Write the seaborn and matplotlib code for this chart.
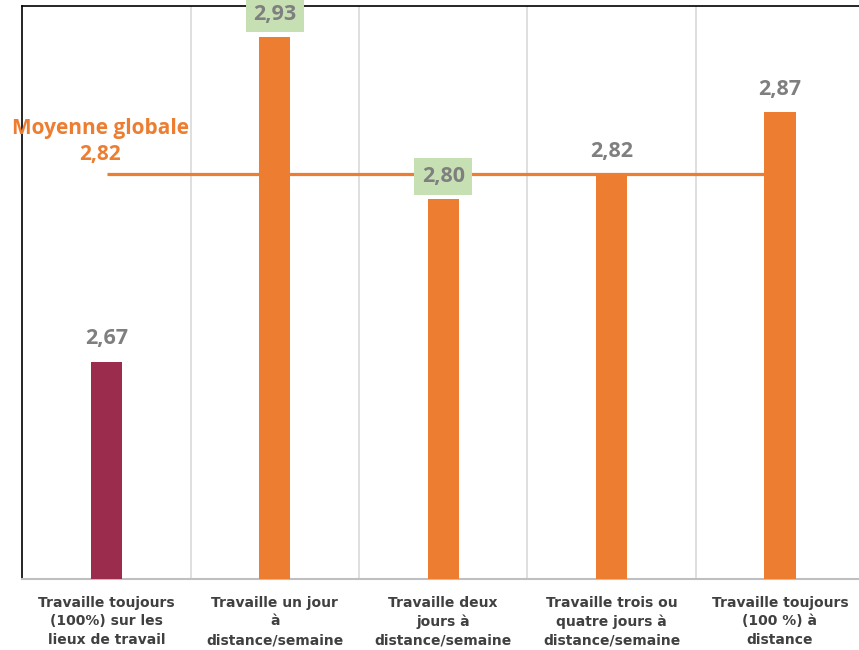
import matplotlib
matplotlib.use("Agg")
import matplotlib.pyplot as plt
import seaborn as sns
import pandas as pd

# Data
categories = [
    "Travaille toujours\n(100%) sur les\nlieux de travail",
    "Travaille un jour\nà\ndistance/semaine",
    "Travaille deux\njours à\ndistance/semaine",
    "Travaille trois ou\nquatre jours à\ndistance/semaine",
    "Travaille toujours\n(100 %) à\ndistance",
]
values = [2.67, 2.93, 2.80, 2.82, 2.87]
value_labels = ["2,67", "2,93", "2,80", "2,82", "2,87"]
highlighted = [False, True, True, False, False]
global_mean = 2.82
global_mean_label = "Moyenne globale\n2,82"

bar_colors = ["#9C2C4E", "#ED7D31", "#ED7D31", "#ED7D31", "#ED7D31"]
orange = "#ED7D31"
label_gray = "#7F7F7F"
box_green = "#C6E0B4"

sns.set_theme(style="white")
plt.rcParams["font.family"] = ["Open Sans", "DejaVu Sans"]

fig = plt.figure(figsize=(8.59, 6.5), dpi=100)
ax = fig.add_axes([0.026, 0.109, 0.98, 0.882])

df = pd.DataFrame({"cat": categories, "val": values})
sns.barplot(data=df, x="cat", y="val", hue="cat", palette=bar_colors,
            width=0.185, legend=False, saturation=1, ax=ax, zorder=3,
            linewidth=0, edgecolor="none")

# Global mean line, drawn behind the bars
ax.plot([0, len(categories) - 1], [global_mean, global_mean],
        color=orange, lw=2.3, zorder=2, solid_capstyle="butt")
ax.annotate(global_mean_label, (-0.036, global_mean), xytext=(0, 24),
            textcoords="offset points", ha="center", va="center",
            color=orange, fontsize=15, fontweight="bold", linespacing=1.3,
            zorder=5)

ax.set_ylim(2.496, 2.955)
ax.set_xlim(-0.5, len(categories) - 0.5)

# Category separators
for b in range(1, len(categories)):
    ax.axvline(b - 0.5, color="#D9D9D9", lw=1.2, zorder=1)

# Value labels
for i, (v, lab, hl) in enumerate(zip(values, value_labels, highlighted)):
    kw = {}
    if hl:
        kw["bbox"] = dict(boxstyle="square,pad=0.36", fc=box_green, ec="none")
    ax.annotate(lab, (i, v), xytext=(0, 16.5), textcoords="offset points",
                ha="center", va="center", color=label_gray, fontsize=15.5,
                fontweight="bold", zorder=6, **kw)

ax.set_xlabel("")
ax.set_ylabel("")
ax.set_yticks([])
ax.tick_params(axis="x", length=0, pad=12)
for t in ax.get_xticklabels():
    t.set_fontfamily(["DejaVu Sans"])
    t.set_fontweight("bold")
    t.set_fontsize(10)
    t.set_color("#404040")
    t.set_linespacing(1.42)

for side in ["top", "left"]:
    ax.spines[side].set_color("black")
    ax.spines[side].set_linewidth(1.2)
ax.spines["bottom"].set_color("#BFBFBF")
ax.spines["bottom"].set_linewidth(1.5)
ax.spines["right"].set_visible(False)

fig.savefig("out.png", dpi=100)
